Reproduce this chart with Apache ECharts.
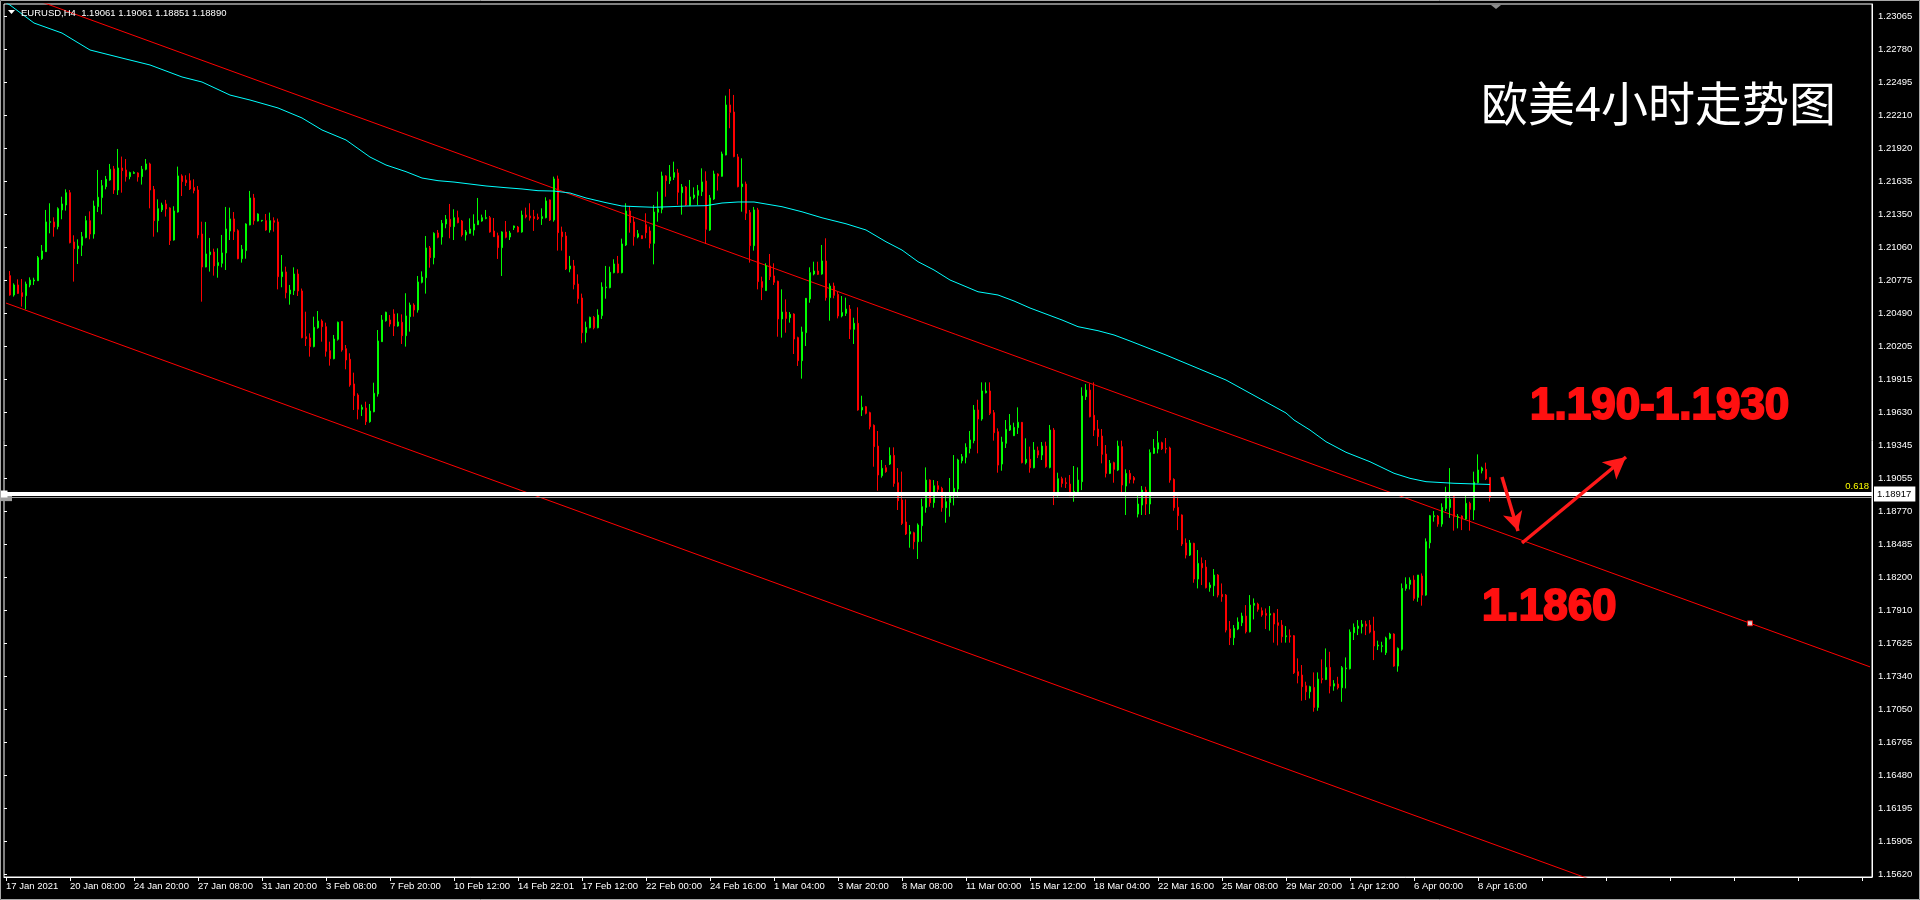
<!DOCTYPE html>
<html><head><meta charset="utf-8">
<script src="https://cdn.jsdelivr.net/npm/echarts@6/dist/echarts.min.js"></script>
<style>html,body{margin:0;padding:0;background:#000;}#c{width:1920px;height:900px;}</style>
</head><body><div id="c"></div>
<script>
// ---------------- data ----------------
const symbolName = 'EURUSD,H4';
const lastBarOHLC = ['1.19061', '1.19061', '1.18851', '1.18890'];
const barSlots = 467;           // visible bar slots (incl. empty right shift)
const tickEvery = 16;           // bars between time labels
const tickLabels = ['17 Jan 2021','20 Jan 08:00','24 Jan 20:00','27 Jan 08:00','31 Jan 20:00','3 Feb 08:00','7 Feb 20:00','10 Feb 12:00','14 Feb 22:01','17 Feb 12:00','22 Feb 00:00','24 Feb 16:00','1 Mar 04:00','3 Mar 20:00','8 Mar 08:00','11 Mar 00:00','15 Mar 12:00','18 Mar 04:00','22 Mar 16:00','25 Mar 08:00','29 Mar 20:00','1 Apr 12:00','6 Apr 00:00','8 Apr 16:00'];
const priceLabels = ['1.15620','1.15905','1.16195','1.16480','1.16765','1.17050','1.17340','1.17625','1.17910','1.18200','1.18485','1.18770','1.19055','1.19345','1.19630','1.19915','1.20205','1.20490','1.20775','1.21060','1.21350','1.21635','1.21920','1.22210','1.22495','1.22780','1.23065'];
const priceMin = 1.155936, priceMax = 1.231691;
// [open, close, low, high] per H4 bar
const ohlc = [
[1.20812,1.20644,1.20638,1.20852],[1.20644,1.20731,1.20630,1.20745],[1.20731,1.20658,1.20653,1.20780],[1.20664,1.20630,1.20543,1.20783],[1.20638,1.20739,1.20520,1.20760],
[1.20731,1.20774,1.20711,1.20797],[1.20766,1.20774,1.20731,1.20794],[1.20768,1.20968,1.20765,1.20982],[1.20959,1.21026,1.20948,1.21078],[1.21020,1.21278,1.21017,1.21382],
[1.21275,1.21280,1.21179,1.21440],[1.21278,1.21234,1.21150,1.21318],[1.21237,1.21393,1.21214,1.21405],[1.21382,1.21434,1.21301,1.21497],[1.21425,1.21532,1.21376,1.21561],
[1.21532,1.21098,1.21092,1.21555],[1.21104,1.21046,1.20760,1.21162],[1.21046,1.21069,1.20913,1.21127],[1.21075,1.21150,1.20982,1.21191],[1.21142,1.21289,1.21136,1.21330],
[1.21289,1.21173,1.21127,1.21370],[1.21173,1.21416,1.21133,1.21463],[1.21411,1.21492,1.21364,1.21729],[1.21489,1.21593,1.21344,1.21642],[1.21584,1.21648,1.21561,1.21677],
[1.21642,1.21735,1.21636,1.21781],[1.21738,1.21555,1.21521,1.21764],[1.21555,1.21746,1.21512,1.21911],[1.21746,1.21723,1.21532,1.21845],[1.21729,1.21671,1.21628,1.21824],
[1.21671,1.21706,1.21648,1.21714],[1.21700,1.21706,1.21694,1.21717],[1.21703,1.21668,1.21628,1.21709],[1.21671,1.21735,1.21602,1.21764],[1.21735,1.21781,1.21726,1.21824],
[1.21781,1.21555,1.21396,1.21792],[1.21561,1.21289,1.21150,1.21590],[1.21289,1.21393,1.21188,1.21474],[1.21382,1.21425,1.21364,1.21445],[1.21434,1.21390,1.21324,1.21469],
[1.21399,1.21116,1.21078,1.21405],[1.21121,1.21373,1.21116,1.21414],[1.21364,1.21677,1.21359,1.21758],[1.21677,1.21628,1.21503,1.21691],[1.21642,1.21619,1.21590,1.21683],
[1.21636,1.21564,1.21555,1.21700],[1.21576,1.21550,1.21526,1.21648],[1.21555,1.21165,1.21136,1.21590],[1.21173,1.20887,1.20586,1.21280],[1.20887,1.21000,1.20884,1.21278],
[1.20994,1.21017,1.20847,1.21139],[1.21017,1.20896,1.20812,1.21046],[1.20899,1.20925,1.20794,1.21049],[1.20919,1.21009,1.20884,1.21165],[1.21009,1.21217,1.20861,1.21408],
[1.21199,1.21304,1.21121,1.21402],[1.21304,1.21194,1.21121,1.21364],[1.21202,1.20959,1.20954,1.21214],[1.20959,1.21040,1.20925,1.21078],[1.21029,1.21260,1.20959,1.21266],
[1.21252,1.21486,1.21249,1.21547],[1.21486,1.21289,1.21254,1.21521],[1.21286,1.21347,1.21283,1.21353],[1.21289,1.21292,1.21280,1.21295],[1.21289,1.21208,1.21202,1.21347],
[1.21208,1.21289,1.21185,1.21359],[1.21289,1.21275,1.21194,1.21318],[1.21278,1.20803,1.20693,1.21307],[1.20803,1.20844,1.20711,1.20991],[1.20844,1.20664,1.20615,1.20890],
[1.20653,1.20687,1.20560,1.20731],[1.20682,1.20826,1.20644,1.20884],[1.20826,1.20679,1.20635,1.20867],[1.20679,1.20274,1.20268,1.20700],[1.20282,1.20265,1.20201,1.20499],
[1.20271,1.20196,1.20109,1.20311],[1.20196,1.20363,1.20190,1.20456],[1.20360,1.20418,1.20352,1.20505],[1.20418,1.20369,1.20239,1.20433],[1.20369,1.20155,1.20109,1.20404],
[1.20161,1.20091,1.20031,1.20239],[1.20091,1.20262,1.20086,1.20297],[1.20259,1.20407,1.20248,1.20413],[1.20413,1.20167,1.20152,1.20418],[1.20178,1.20080,1.19999,1.20210],
[1.20086,1.19863,1.19848,1.20138],[1.19872,1.19770,1.19646,1.19970],[1.19776,1.19652,1.19565,1.19791],[1.19652,1.19669,1.19594,1.19692],[1.19663,1.19545,1.19516,1.19718],
[1.19545,1.19637,1.19536,1.19698],[1.19631,1.19791,1.19626,1.19883],[1.19785,1.20245,1.19762,1.20340],[1.20239,1.20427,1.20236,1.20470],[1.20421,1.20494,1.20413,1.20499],
[1.20427,1.20392,1.20369,1.20470],[1.20479,1.20375,1.20288,1.20520],[1.20375,1.20410,1.20369,1.20485],[1.20407,1.20291,1.20219,1.20476],[1.20291,1.20462,1.20196,1.20659],
[1.20456,1.20557,1.20326,1.20578],[1.20557,1.20514,1.20456,1.20572],[1.20514,1.20757,1.20491,1.20809],[1.20754,1.20800,1.20745,1.20849],[1.20794,1.21052,1.20656,1.21156],
[1.21052,1.20968,1.20881,1.21069],[1.20968,1.21179,1.20910,1.21188],[1.21182,1.21145,1.21136,1.21208],[1.21147,1.21266,1.21081,1.21295],[1.21260,1.21301,1.21223,1.21338],
[1.21301,1.21237,1.21136,1.21434],[1.21237,1.21315,1.21121,1.21388],[1.21315,1.21272,1.21266,1.21376],[1.21286,1.21165,1.21150,1.21295],[1.21165,1.21191,1.21116,1.21208],
[1.21179,1.21217,1.21176,1.21309],[1.21208,1.21260,1.21159,1.21344],[1.21254,1.21289,1.21251,1.21486],[1.21286,1.21315,1.21280,1.21341],[1.21309,1.21315,1.21301,1.21382],
[1.21315,1.21191,1.21185,1.21330],[1.21199,1.21150,1.21147,1.21312],[1.21159,1.21055,1.20957,1.21185],[1.21055,1.21191,1.20809,1.21197],[1.21191,1.21145,1.21136,1.21286],
[1.21147,1.21182,1.21121,1.21200],[1.21228,1.21243,1.21208,1.21246],[1.21234,1.21191,1.21188,1.21243],[1.21191,1.21338,1.21185,1.21376],[1.21338,1.21321,1.21309,1.21402],
[1.21330,1.21312,1.21289,1.21440],[1.21324,1.21307,1.21200,1.21382],[1.21318,1.21307,1.21295,1.21350],[1.21307,1.21324,1.21252,1.21396],[1.21315,1.21460,1.21309,1.21492],
[1.21469,1.21295,1.21286,1.21472],[1.21295,1.21651,1.21280,1.21671],[1.21651,1.21185,1.21029,1.21680],[1.21191,1.21150,1.21029,1.21237],[1.21156,1.20870,1.20861,1.21191],
[1.20870,1.20896,1.20841,1.20983],[1.20896,1.20734,1.20693,1.20948],[1.20739,1.20612,1.20569,1.20823],[1.20618,1.20317,1.20225,1.20656],[1.20317,1.20363,1.20233,1.20413],
[1.20360,1.20450,1.20355,1.20456],[1.20450,1.20360,1.20346,1.20462],[1.20360,1.20470,1.20355,1.20520],[1.20465,1.20713,1.20436,1.20754],[1.20708,1.20713,1.20612,1.20896],
[1.20708,1.20841,1.20702,1.20890],[1.20838,1.20913,1.20832,1.20954],[1.20913,1.20838,1.20832,1.20983],[1.20838,1.21087,1.20832,1.21133],[1.21078,1.21373,1.21069,1.21440],
[1.21373,1.21272,1.21185,1.21417],[1.21278,1.21150,1.21072,1.21324],[1.21147,1.21176,1.21136,1.21208],[1.21159,1.21133,1.21130,1.21162],[1.21254,1.21185,1.21136,1.21353],
[1.21200,1.21092,1.21049,1.21237],[1.21092,1.21364,1.20910,1.21425],[1.21362,1.21390,1.21280,1.21541],[1.21388,1.21677,1.21353,1.21714],[1.21677,1.21636,1.21497,1.21683],
[1.21636,1.21668,1.21607,1.21772],[1.21665,1.21706,1.21642,1.21801],[1.21703,1.21535,1.21428,1.21738],[1.21532,1.21581,1.21341,1.21607],[1.21581,1.21425,1.21417,1.21590],
[1.21422,1.21495,1.21417,1.21642],[1.21489,1.21512,1.21474,1.21578],[1.21509,1.21550,1.21425,1.21599],[1.21541,1.21625,1.21503,1.21743],[1.21633,1.21214,1.21087,1.21717],
[1.21208,1.21486,1.21200,1.21512],[1.21477,1.21694,1.21469,1.21723],[1.21694,1.21677,1.21550,1.21700],[1.21674,1.21868,1.21671,1.21888],[1.21859,1.22293,1.21856,1.22374],
[1.22293,1.22229,1.22091,1.22432],[1.22232,1.21845,1.21839,1.22380],[1.21842,1.21584,1.21578,1.21868],[1.21584,1.21607,1.21367,1.21830],[1.21607,1.21353,1.21295,1.21628],
[1.21359,1.21072,1.20925,1.21382],[1.21072,1.21382,1.21029,1.21408],[1.21382,1.20760,1.20693,1.21400],[1.20760,1.20710,1.20600,1.20803],[1.20682,1.20896,1.20679,1.20919],
[1.20896,1.20803,1.20774,1.21000],[1.20809,1.20754,1.20731,1.20919],[1.20763,1.20436,1.20282,1.20768],[1.20436,1.20496,1.20274,1.20693],[1.20496,1.20441,1.20317,1.20606],
[1.20447,1.20476,1.20404,1.20496],[1.20479,1.20262,1.20132,1.20485],[1.20274,1.20074,1.20028,1.20282],[1.20074,1.20323,1.19918,1.20369],[1.20317,1.20615,1.20201,1.20618],
[1.20609,1.20838,1.20577,1.20884],[1.20826,1.20852,1.20815,1.20933],[1.20852,1.20823,1.20817,1.20933],[1.20826,1.20939,1.20820,1.21078],[1.20939,1.20621,1.20595,1.21136],
[1.20621,1.20722,1.20421,1.20745],[1.20722,1.20641,1.20615,1.20751],[1.20650,1.20462,1.20441,1.20673],[1.20462,1.20491,1.20450,1.20635],[1.20485,1.20522,1.20462,1.20621],
[1.20522,1.20346,1.20262,1.20557],[1.20346,1.20398,1.20219,1.20447],[1.20398,1.19646,1.19640,1.20537],[1.19646,1.19669,1.19594,1.19770],[1.19675,1.19617,1.19608,1.19681],
[1.19623,1.19501,1.19478,1.19631],[1.19513,1.19328,1.19154,1.19521],[1.19333,1.19082,1.18946,1.19464],[1.19076,1.19140,1.19059,1.19212],[1.19145,1.19111,1.19102,1.19169],
[1.19177,1.19252,1.19169,1.19322],[1.19252,1.19009,1.18980,1.19322],[1.19015,1.18859,1.18778,1.19142],[1.18865,1.18662,1.18648,1.19111],[1.18674,1.18570,1.18561,1.18870],
[1.18570,1.18590,1.18451,1.18648],[1.18581,1.18503,1.18437,1.18590],[1.18503,1.18648,1.18353,1.18662],[1.18642,1.18807,1.18503,1.18876],[1.18801,1.19038,1.18755,1.19148],
[1.19038,1.18842,1.18807,1.19044],[1.18842,1.18989,1.18798,1.19038],[1.18989,1.18957,1.18923,1.19030],[1.18966,1.18798,1.18763,1.18980],[1.18798,1.18850,1.18668,1.18928],
[1.18844,1.18917,1.18720,1.19056],[1.18908,1.18966,1.18818,1.19255],[1.18960,1.19212,1.18894,1.19223],[1.19206,1.19241,1.19183,1.19264],[1.19235,1.19322,1.19183,1.19357],
[1.19313,1.19386,1.19270,1.19464],[1.19380,1.19646,1.19357,1.19689],[1.19646,1.19568,1.19270,1.19735],[1.19568,1.19811,1.19553,1.19886],[1.19796,1.19811,1.19790,1.19886],
[1.19811,1.19617,1.19602,1.19886],[1.19623,1.19449,1.19380,1.19646],[1.19458,1.19168,1.19102,1.19487],[1.19177,1.19368,1.19119,1.19414],[1.19357,1.19478,1.19316,1.19559],
[1.19472,1.19513,1.19464,1.19611],[1.19423,1.19495,1.19420,1.19536],[1.19493,1.19539,1.19438,1.19669],[1.19539,1.19189,1.19183,1.19542],[1.19189,1.19218,1.19174,1.19400],
[1.19218,1.19145,1.19102,1.19328],[1.19145,1.19299,1.19140,1.19368],[1.19293,1.19255,1.19229,1.19328],[1.19255,1.19333,1.19212,1.19368],[1.19333,1.19154,1.19145,1.19371],
[1.19148,1.19472,1.19140,1.19516],[1.19472,1.18937,1.18821,1.19490],[1.18934,1.19050,1.18894,1.19102],[1.19050,1.19009,1.18975,1.19067],[1.19015,1.19009,1.18969,1.19059],
[1.19003,1.18902,1.18899,1.19082],[1.18902,1.18940,1.18850,1.19160],[1.18937,1.19038,1.18923,1.19148],[1.19024,1.19767,1.18951,1.19843],[1.19762,1.19819,1.19733,1.19871],
[1.19819,1.19588,1.19582,1.19877],[1.19600,1.19472,1.19420,1.19886],[1.19481,1.19414,1.19333,1.19559],[1.19420,1.19261,1.19183,1.19481],[1.19264,1.19096,1.19061,1.19342],
[1.19096,1.19183,1.19090,1.19212],[1.19189,1.19131,1.19015,1.19197],[1.19125,1.19333,1.19116,1.19380],[1.19328,1.18995,1.18899,1.19380],[1.18986,1.19096,1.18735,1.19131],
[1.19096,1.19044,1.19009,1.19125],[1.19059,1.19038,1.19009,1.19073],[1.18743,1.18830,1.18714,1.18899],[1.18821,1.18951,1.18735,1.18986],[1.18951,1.18830,1.18735,1.18980],
[1.18830,1.19276,1.18743,1.19304],[1.19270,1.19316,1.19264,1.19394],[1.19307,1.19362,1.19270,1.19464],[1.19362,1.19310,1.19299,1.19371],[1.19313,1.19307,1.19270,1.19403],
[1.19316,1.19038,1.19015,1.19328],[1.19044,1.18798,1.18772,1.19053],[1.18801,1.18729,1.18604,1.18894],[1.18735,1.18483,1.18466,1.18740],[1.18492,1.18387,1.18358,1.18532],
[1.18387,1.18492,1.18379,1.18518],[1.18489,1.18179,1.18147,1.18494],[1.18179,1.18315,1.18098,1.18431],[1.18315,1.18277,1.18127,1.18367],[1.18283,1.18104,1.18098,1.18344],
[1.18104,1.18127,1.18069,1.18150],[1.18121,1.18214,1.18031,1.18266],[1.18214,1.18040,1.18020,1.18222],[1.18046,1.18026,1.17982,1.18141],[1.18040,1.17736,1.17716,1.18049],
[1.17745,1.17670,1.17606,1.17815],[1.17670,1.17751,1.17606,1.17780],[1.17745,1.17806,1.17736,1.17846],[1.17800,1.17858,1.17771,1.17887],[1.17858,1.17722,1.17707,1.17953],
[1.17722,1.17953,1.17716,1.18040],[1.17951,1.17968,1.17829,1.18011],[1.17962,1.17916,1.17896,1.17974],[1.17904,1.17867,1.17852,1.17933],[1.17881,1.17864,1.17745,1.17924],
[1.17867,1.17878,1.17731,1.17945],[1.17881,1.17789,1.17627,1.17887],[1.17800,1.17777,1.17603,1.17919],[1.17780,1.17679,1.17627,1.17823],[1.17679,1.17687,1.17627,1.17771],
[1.17687,1.17679,1.17627,1.17742],[1.17687,1.17366,1.17355,1.17693],[1.17375,1.17340,1.17274,1.17491],[1.17346,1.17245,1.17123,1.17433],[1.17253,1.17201,1.17129,1.17288],
[1.17201,1.17245,1.17143,1.17253],[1.17239,1.17065,1.17028,1.17369],[1.17065,1.17311,1.17036,1.17369],[1.17314,1.17308,1.17274,1.17482],[1.17308,1.17412,1.17302,1.17577],
[1.17412,1.17250,1.17187,1.17548],[1.17250,1.17271,1.17210,1.17302],[1.17268,1.17236,1.17221,1.17331],[1.17236,1.17410,1.17114,1.17424],[1.17401,1.17407,1.17230,1.17499],
[1.17401,1.17719,1.17395,1.17742],[1.17713,1.17760,1.17650,1.17794],[1.17751,1.17771,1.17693,1.17823],[1.17765,1.17788,1.17707,1.17823],[1.17788,1.17771,1.17693,1.17817],
[1.17780,1.17719,1.17707,1.17823],[1.17728,1.17598,1.17476,1.17852],[1.17598,1.17606,1.17563,1.17644],[1.17595,1.17600,1.17543,1.17635],[1.17540,1.17667,1.17520,1.17679],
[1.17664,1.17702,1.17655,1.17713],[1.17702,1.17424,1.17418,1.17708],[1.17424,1.17577,1.17375,1.17586],[1.17569,1.18098,1.17557,1.18141],[1.18098,1.18133,1.18078,1.18194],
[1.18133,1.18170,1.18089,1.18194],[1.18170,1.18011,1.17991,1.18211],[1.18020,1.18214,1.17982,1.18214],[1.18205,1.18040,1.17948,1.18228],[1.18040,1.18503,1.18034,1.18532],
[1.18494,1.18729,1.18445,1.18735],[1.18720,1.18729,1.18677,1.18769],[1.18726,1.18656,1.18633,1.18735],[1.18656,1.18801,1.18633,1.18836],[1.18792,1.18894,1.18769,1.18980],
[1.18800,1.18870,1.18710,1.19142],[1.18894,1.18720,1.18599,1.18908],[1.18714,1.18720,1.18619,1.18743],[1.18726,1.18700,1.18604,1.18732],[1.18700,1.18836,1.18691,1.18923],
[1.18836,1.18784,1.18599,1.18850],[1.18778,1.19021,1.18691,1.19111],[1.19015,1.19125,1.19009,1.19261],[1.19119,1.19142,1.19096,1.19154],[1.19131,1.19050,1.19038,1.19189],
[1.19061,1.18890,1.18851,1.19061]
];
// moving average (cyan) read at these bar positions: [bar, value]
const maPoints = [[0,1.2318],[1,1.2316],[7,1.23004],[14,1.22917],[21,1.22770],[29,1.22700],[36,1.22640],[44,1.22536],[49,1.22492],[56,1.22379],[61,1.22336],[68,1.22267],[74,1.22180],[79,1.22076],[85,1.21989],[91,1.21841],[95,1.21772],[100,1.21714],[104,1.21659],[108,1.21636],[112,1.21624],[116,1.21607],[120,1.21590],[125,1.21575],[129,1.21564],[133,1.21549],[137,1.21546],[141,1.21529],[145,1.21486],[150,1.21445],[154,1.21416],[158,1.21410],[162,1.21405],[166,1.21410],[170,1.21416],[175,1.21419],[179,1.21442],[183,1.21451],[187,1.21451],[194,1.21410],[199,1.21366],[204,1.21314],[210,1.21262],[215,1.21208],[220,1.21106],[224,1.21034],[228,1.20933],[232,1.20861],[236,1.20774],[240,1.20716],[243,1.20672],[248,1.20644],[252,1.20592],[256,1.20531],[260,1.20479],[264,1.20427],[268,1.20369],[273,1.20334],[277,1.20297],[281,1.20245],[290,1.20123],[305,1.19906],[320,1.19620],[322,1.19559],[326,1.19472],[330,1.19371],[335,1.19279],[341,1.19197],[347,1.19097],[351,1.19053],[355,1.19024],[362,1.19010],[370,1.19001],[371,1.19000]];
// channel trend lines [bar, price]
const upperChannel = [[0,1.23299],[466,1.17417]];
const lowerChannel = [[0,1.20574],[466,1.14690]];
const channelAnchor = [[436,1.17795]];
const fibLevel = 1.18917, fibName = '0.618';
const bidPrice = 1.18890;
const arrowDown = [[374,1.19065],[378,1.18596]];
const arrowUp = [[379,1.18492],[405,1.19238]];
const titleText = '欧美4小时走势图';
const targetText = '1.190-1.1930';
const supportText = '1.1860';

// ---------------- chart ----------------
const FONT = '"Liberation Sans", Arial, sans-serif';
const categories = Array.from({length: barSlots}, (_, i) => String(i));
const candleRows = ohlc.map((d, i) => [i + 1, d[0], d[1], d[2], d[3]]);
const GL = 4, GT = 4, GW = 1868, GH = 873;

const chart = echarts.init(document.getElementById('c'), null, {renderer: 'canvas'});
chart.setOption({
  backgroundColor: '#000',
  animation: false,
  grid: [
    {left: GL, top: GT, width: GW, height: GH, show: true, borderColor: '#ffffff', borderWidth: 1, outerBoundsMode: 'none', containLabel: false},
    {left: GL, top: 16, width: GW, height: 858, show: false, outerBoundsMode: 'none', containLabel: false}
  ],
  xAxis: [
    {type: 'category', gridIndex: 0, data: categories, boundaryGap: true,
     axisLine: {show: true, lineStyle: {color: '#fff', width: 1}},
     axisTick: {show: true, alignWithLabel: true, length: 4, interval: (i) => i % tickEvery === 0, lineStyle: {color: '#fff'}},
     axisLabel: {show: true, interval: (i) => i % tickEvery === 0, color: '#fff', fontFamily: FONT, fontSize: 9.5, align: 'left', margin: 4,
                 formatter: (v) => tickLabels[Number(v) / tickEvery] || ''},
     splitLine: {show: false}},
    {type: 'value', gridIndex: 1, show: false, min: 0, max: 1}
  ],
  yAxis: [
    {type: 'value', gridIndex: 0, position: 'right', min: priceMin, max: priceMax, scale: true,
     axisLine: {show: true, lineStyle: {color: '#fff'}}, axisTick: {show: false}, axisLabel: {show: false}, splitLine: {show: false}},
    {type: 'value', gridIndex: 1, position: 'right', min: 0, max: priceLabels.length - 1, interval: 1,
     axisLine: {show: false}, axisTick: {show: true, length: 3, lineStyle: {color: '#fff'}},
     axisLabel: {show: true, color: '#fff', fontFamily: FONT, fontSize: 9.5, margin: 6, showMinLabel: true, showMaxLabel: true,
                 formatter: (v) => priceLabels[Math.round(v)]},
     splitLine: {show: false}}
  ],
  series: [
    {type: 'line', name: 'lower', data: lowerChannel, xAxisIndex: 0, yAxisIndex: 0, showSymbol: false, clip: true,
     lineStyle: {color: '#ff0000', width: 1}, silent: true, z: 2},
    {type: 'line', name: 'upper', data: upperChannel, xAxisIndex: 0, yAxisIndex: 0, showSymbol: false, clip: true,
     lineStyle: {color: '#ff0000', width: 1}, silent: true, z: 2},
    {type: 'candlestick', name: symbolName, data: candleRows, encode: {x: 0, y: [1, 2, 3, 4]},
     xAxisIndex: 0, yAxisIndex: 0, barWidth: 2, silent: true, z: 3,
     itemStyle: {color: '#00ff00', color0: '#ff0000', borderColor: '#00ff00', borderColor0: '#ff0000', borderWidth: 1},
     markLine: {
       silent: true, animation: false, precision: 5, symbol: ['none', 'none'],
       data: [
         {yAxis: bidPrice, symbol: ['none', 'none'], lineStyle: {color: '#a0a0a0', width: 1, type: 'solid'}, label: {show: false}},
         {yAxis: fibLevel, symbol: ['rect', 'rect'], symbolSize: 7, itemStyle: {color: '#fff'}, lineStyle: {color: '#ffffff', width: 4, type: 'solid'},
          label: {show: true, position: 'end', distance: 2, formatter: fibLevel.toFixed(5), color: '#000', backgroundColor: '#fff',
                  padding: [3, 4, 2, 3], fontFamily: FONT, fontSize: 9.5}},
         {yAxis: fibLevel, symbol: ['none', 'none'], lineStyle: {color: 'rgba(0,0,0,0)', width: 1},
          label: {show: true, position: 'insideEndTop', distance: 3, formatter: fibName, color: '#ffff00', fontFamily: FONT, fontSize: 9.5}},
         [{coord: arrowDown[0], symbol: 'none', lineStyle: {color: '#ff1a1a', width: 3.5, type: 'solid'}, label: {show: false}},
          {coord: arrowDown[1], symbol: 'arrow', symbolSize: [15, 19]}],
         [{coord: arrowUp[0], symbol: 'none', lineStyle: {color: '#ff1a1a', width: 3.5, type: 'solid'}, label: {show: false}},
          {coord: arrowUp[1], symbol: 'arrow', symbolSize: [17, 22]}]
       ]
     }},
    {type: 'line', name: 'MA', data: maPoints, xAxisIndex: 0, yAxisIndex: 0, showSymbol: false, clip: true, smooth: false,
     lineStyle: {color: '#00ffff', width: 1}, silent: true, z: 4},
    {type: 'scatter', name: 'anchor', data: channelAnchor, xAxisIndex: 0, yAxisIndex: 0, symbol: 'rect', symbolSize: 5,
     itemStyle: {color: '#fff', borderColor: '#ff0000', borderWidth: 1}, silent: true, z: 5}
  ],
  graphic: [
    {type: 'rect', silent: true, z: 100, shape: {x: 0.5, y: 0.5, width: 1919, height: 899}, style: {fill: 'none', stroke: '#a8a8a8', lineWidth: 1}},
    {type: 'polygon', silent: true, z: 100, shape: {points: [[8, 10], [15, 10], [11.5, 14]]}, style: {fill: '#fff'}},
    {type: 'polygon', silent: true, z: 100, shape: {points: [[1491, 5], [1501, 5], [1496, 9]]}, style: {fill: '#8c8c8c'}},
    {type: 'text', silent: true, z: 100, x: 21, y: 13,
     style: {text: symbolName + '  ' + lastBarOHLC.join(' '), fill: '#fff', fontFamily: FONT, fontSize: 9.5, verticalAlign: 'middle', align: 'left'}},
    {type: 'text', silent: true, z: 100, x: 1481, y: 103,
     style: {text: titleText, fill: '#fff', fontFamily: '"Noto Sans CJK SC", sans-serif', fontSize: 47, verticalAlign: 'middle', align: 'left'}},
    {type: 'text', silent: true, z: 100, x: 1530, y: 407,
     style: {text: targetText, fill: '#ff1010', stroke: '#ff1010', lineWidth: 2, fontFamily: FONT, fontWeight: 'bold', fontSize: 44, verticalAlign: 'middle', align: 'left'}},
    {type: 'text', silent: true, z: 100, x: 1482, y: 608,
     style: {text: supportText, fill: '#ff1010', stroke: '#ff1010', lineWidth: 2, fontFamily: FONT, fontWeight: 'bold', fontSize: 44, verticalAlign: 'middle', align: 'left'}}
  ]
});
</script></body></html>
